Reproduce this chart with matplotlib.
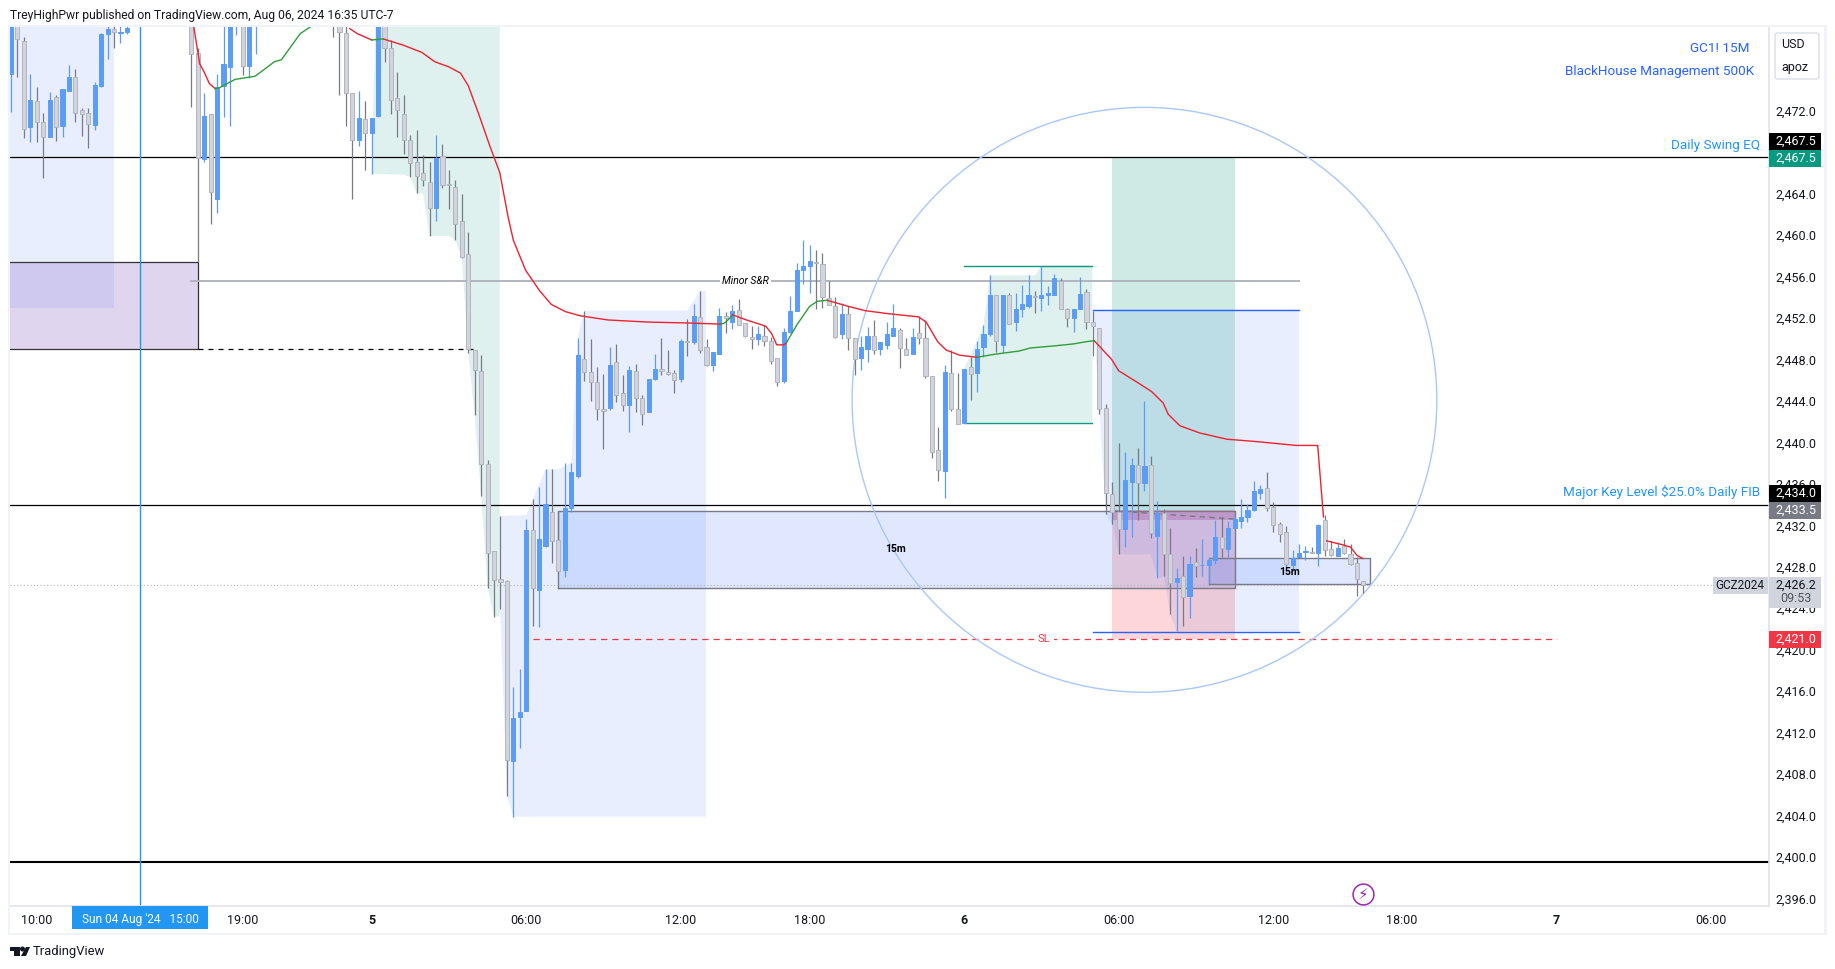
import numpy as np
import matplotlib
matplotlib.use('Agg')
import matplotlib.pyplot as plt
from matplotlib.patches import Ellipse, Rectangle, FancyBboxPatch, Polygon

nan = np.nan
W, H = 1835, 969

# candles, one per 15 min bar, gaps are bars that sit above the visible range
opens = [2475.5,2482,2478.7,2470.4,2472.9,2470.9,2469.4,2473.3,2470.5,2473.9,
    2475.2,2472.0,2471.8,2470.6,2474.4,2479.4,2479.9,2479.5,2479.6] + [nan]*9 + [
    2483,2477.5,2467.3,2471.7,2463.5,2474.4,2476.2,2481,2483,2476.3,2481] + [nan]*11 + [
    2484,2482,2479.5,2473.7,2469.2,2471.2,2469.8,2471.5,2481,2478.0,
    2473.2,2471.7,2469.2,2467.0,2466.0,2465.1,2462.6,2467.6,2464.9,2464.6,
    2461.3,2458.2,2448.9,2446.9,2437.9,2429.5,2426.8,2426.6,2409.3,2413.5,
    2414.1,2431.5,2425.8,2430.0,2433.3,2430.6,2427.7,2433.7,2436.8,2448.0,
    2446.8,2445.8,2443.2,2443.3,2447.7,2444.8,2443.6,2446.9,2444.3,2442.9,
    2446.1,2447.1,2446.8,2446.7,2446.1,2449.8,2449.7,2452.1,2449.2,2447.5,
    2448.5,2452.2,2451.6,2452.8,2451.5,2450.2,2450.0,2450.3,2449.8,2448.1,
    2445.9,2450.6,2452.7,2456.6,2457.0,2457.4,2457.2,2453.9,2453.1,2450.4,
    2452.4,2450.1,2448.1,2449.0,2450.3,2449.0,2449.4,2450.3,2450.8,2449.0,
    2448.5,2450.5,2450.1,2446.4,2439.3,2437.2,2446.7,2443.2,2441.9,2447.3,
    2446.7,2449.2,2450.4,2454.2,2449.4,2454.2,2451.6,2452.9,2453.1,2454.1,
    2453.9,2454.2,2454.2,2455.6,2452.9,2452.0,2452.9,2454.5,2451.6,2451.0,
    2443.3,2435.0,2433.3,2431.6,2436.2,2437.8,2436.1,2437.8,2431.0,2433.2,
    2429.2,2426.5,2427.1,2425.2,2428.5,2428.15,2428.2,2428.7,2430.9,2429.7,
    2431.7,2432.4,2432.8,2433.5,2435.1,2435.6,2433.8,2432.1,2431.4,2428.2,
    2428.9,2429.4,2429.4,2429.3,2432.5,2429.7,2429.0,2430.0,2429.2,2428.4,
    2426.6]
closes = [2482,2478.9,2470.2,2473.0,2470.9,2469.4,2473.0,2470.4,2474.1,2475.2,
    2471.8,2471.7,2470.7,2474.5,2479.4,2479.9,2479.6,2479.6,2480.0] + [nan]*9 + [
    2477.4,2467.4,2471.5,2464.1,2474.3,2476.5,2481.5,2483,2476.3,2483,2483] + [nan]*11 + [
    2482,2479.6,2473.7,2469.2,2471.3,2469.8,2471.3,2481,2478.0,2473.0,
    2472.0,2469.2,2466.9,2465.7,2465.3,2462.6,2467.4,2464.8,2464.8,2461.1,
    2457.9,2449.0,2447.0,2437.9,2429.3,2426.7,2426.5,2409.4,2413.4,2414.0,
    2431.5,2426.0,2430.7,2434.1,2430.5,2427.6,2433.7,2437.1,2448.4,2446.8,
    2445.8,2443.2,2443.0,2447.5,2444.6,2443.6,2447.0,2444.3,2442.7,2446.1,
    2447.1,2446.9,2446.6,2446.0,2449.8,2449.7,2452.2,2448.9,2447.5,2448.7,
    2452.2,2452.0,2452.7,2451.3,2450.3,2449.95,2450.4,2449.8,2447.8,2445.8,
    2450.6,2452.7,2456.6,2457.0,2457.5,2457.25,2454.0,2453.2,2450.2,2452.4,
    2450.1,2448.0,2449.2,2450.3,2448.9,2449.7,2450.4,2451.0,2449.1,2448.4,
    2450.2,2450.1,2446.4,2439.1,2437.3,2446.8,2443.2,2441.8,2447.1,2446.6,
    2449.0,2450.4,2454.2,2449.8,2454.2,2451.4,2452.9,2453.3,2454.2,2454.0,
    2454.2,2454.4,2455.8,2452.9,2452.0,2452.9,2454.3,2451.6,2451.2,2443.2,
    2435.1,2433.3,2431.6,2436.4,2437.8,2436.1,2437.7,2431.3,2433.2,2429.2,
    2426.4,2426.9,2425.1,2428.3,2428.1,2428.2,2428.7,2430.9,2429.8,2431.7,
    2432.6,2432.8,2433.5,2435.3,2435.5,2433.7,2432.0,2431.2,2428.3,2428.8,
    2429.3,2429.5,2429.3,2432.0,2429.6,2429.15,2429.8,2429.3,2428.3,2426.8,
    2426.2]
highs = [2483,2483,2479.1,2475.5,2474.3,2471.8,2473.8,2473.5,2474.1,2476.4,
    2476.0,2472.2,2472.2,2474.7,2479.5,2480.3,2480.3,2480.3,2480.5] + [nan]*9 + [
    2484,2478.0,2473.7,2471.7,2475.5,2481,2482,2483.5,2484,2484,2484] + [nan]*11 + [
    2485,2483,2481,2473.7,2473.9,2472.9,2471.3,2482,2482,2478.8,
    2475.7,2473.5,2469.6,2470.1,2467.7,2467.0,2469.6,2468.8,2466.3,2465.3,
    2463.9,2460.3,2448.9,2448.4,2438.3,2429.5,2432.9,2426.7,2416.4,2418.1,
    2432.6,2434.5,2435.7,2437.4,2437.4,2433.4,2438.0,2438.0,2450.1,2452.7,
    2450.0,2447.3,2446.6,2449.2,2449.5,2446.5,2447.4,2447.6,2444.6,2446.1,
    2448.5,2450.1,2448.9,2447.0,2450.0,2451.9,2453.3,2454.6,2450.0,2448.7,
    2453.0,2452.6,2453.2,2453.8,2451.5,2451.2,2451.2,2451.3,2450.2,2448.1,
    2451.0,2454.1,2457.3,2459.5,2459.0,2458.5,2458.3,2455.6,2454.0,2453.4,
    2453.1,2450.1,2450.3,2451.1,2451.8,2449.7,2451.6,2453.3,2451.0,2450.1,
    2451.0,2452.2,2451.8,2446.4,2441.5,2447.5,2448.9,2446.7,2447.1,2448.2,
    2449.8,2451.3,2456.1,2454.2,2454.2,2454.4,2454.4,2455.2,2456.1,2454.6,
    2457.0,2455.1,2456.2,2455.8,2453.0,2452.9,2455.9,2454.8,2452.7,2451.0,
    2443.7,2436.2,2439.9,2439.1,2438.5,2439.5,2444.0,2438.7,2434.3,2433.6,
    2431.7,2427.9,2429.0,2429.0,2429.8,2430.7,2428.9,2432.5,2432.8,2432.4,
    2432.9,2434.5,2434.1,2436.3,2435.9,2437.1,2434.2,2432.3,2431.9,2429.6,
    2430.2,2430.0,2429.9,2432.1,2433.0,2430.5,2430.4,2430.7,2430.2,2428.9,
    2426.6]
lows = [2471.9,2475.2,2469.3,2469.0,2469.0,2465.5,2469.4,2469.1,2469.4,2473.9,
    2470.9,2469.5,2468.4,2470.1,2474.3,2477.0,2478.0,2478.5,2479.4] + [nan]*9 + [
    2472.3,2457.4,2467.0,2461.1,2462.1,2471.4,2470.5,2479.3,2475.4,2475.1,2477.4] + [nan]*11 + [
    2479.1,2473.5,2470.5,2463.5,2468.6,2466.3,2465.9,2471.4,2476.7,2471.7,
    2469.4,2467.8,2465.6,2464.0,2464.7,2459.9,2461.3,2464.5,2462.5,2459.5,
    2457.8,2448.6,2442.6,2434.8,2426.0,2423.2,2423.9,2405.9,2403.9,2410.5,
    2414.1,2422.3,2422.2,2429.9,2428.4,2427.6,2427.0,2433.3,2436.6,2445.9,
    2444.0,2442.2,2439.4,2443.1,2443.9,2443.0,2441.0,2442.9,2441.7,2442.9,
    2446.0,2446.5,2446.5,2444.8,2445.8,2448.3,2449.5,2448.6,2447.4,2446.9,
    2448.5,2450.5,2450.9,2451.3,2450.2,2449.0,2449.4,2449.3,2447.6,2445.4,
    2445.7,2450.5,2452.7,2455.3,2454.4,2452.9,2453.0,2453.2,2450.1,2450.0,
    2448.9,2446.5,2447.0,2447.7,2448.5,2448.4,2449.0,2450.3,2447.2,2448.4,
    2448.5,2449.5,2446.2,2438.5,2436.3,2434.6,2443.0,2441.8,2441.9,2444.1,
    2444.9,2448.2,2450.3,2448.7,2448.6,2451.4,2450.7,2452.1,2453.0,2452.5,
    2452.7,2453.2,2454.2,2452.9,2451.1,2450.6,2452.9,2450.9,2448.3,2442.7,
    2433.1,2432.1,2429.2,2429.9,2430.9,2432.5,2435.3,2430.8,2426.9,2427.1,
    2423.4,2421.8,2422.3,2423.1,2427.0,2427.1,2426.4,2428.3,2428.9,2428.9,
    2431.7,2431.7,2432.3,2433.4,2434.5,2433.4,2431.4,2430.4,2427.8,2427.6,
    2428.9,2428.7,2429.3,2428.1,2429.0,2429.0,2429.0,2429.2,2428.2,2425.2,
    2425.5]

# moving average pieces (bar number, price), red below / green above
ma_red_1_x = [28.4,29.3,30,30.8,31.7]
ma_red_1_y = [2480.0,2476.5,2475.7,2474.6,2474.1]
ma_green_1_x = [31.7,32.4,34.8,37.9,40.9,42,44.9,46.8]
ma_green_1_y = [2474.1,2474.2,2475.0,2475.3,2476.7,2476.9,2479.4,2480.2]
ma_red_2_x = [52.6,53.8,56]
ma_red_2_y = [2479.9,2479.4,2478.8]
ma_green_2_x = [56,57.8]
ma_green_2_y = [2478.8,2478.9]
ma_red_3_x = [57.8,60.9,63.8,65.8,68,69.8,71,72.6,74.4,75.9,77.2,78,79.9,82.1,83.9,86.1,88.4,92.7,98.8,105.6,110.2]
ma_red_3_y = [2478.9,2478.3,2477.6,2476.7,2476.2,2475.6,2474.4,2471.7,2468.5,2466.0,2461.7,2459.5,2456.6,2454.6,2453.3,2452.6,2452.2,2451.8,2451.6,2451.5,2451.4]
ma_green_3_x = [110.2,110.8,112]
ma_green_3_y = [2451.4,2451.5,2452.2]
ma_red_4_x = [112,114.2,117.2,118.1,118.9,120,120.4]
ma_red_4_y = [2452.3,2451.8,2451.2,2450.5,2449.4,2449.4,2449.6]
ma_green_4_x = [120.4,122.1,124,125.2,126.7]
ma_green_4_y = [2449.6,2451.4,2453.1,2453.6,2453.7]
ma_red_5_x = [126.7,130.1,132.6,136.3,140.9,142.1,143.9,145.2,147.3,150]
ma_red_5_y = [2453.7,2453.1,2452.7,2452.4,2452.1,2451.6,2449.7,2448.9,2448.4,2448.2]
ma_green_5_x = [150,152.8,156.5,158.3,162,165.1,166.9,168.2]
ma_green_5_y = [2448.2,2448.5,2448.8,2449.1,2449.3,2449.5,2449.7,2449.8]
ma_red_6_x = [168.2,169.4,170.9,172,174.6,177.1,178.9,179.7,181.5,184.6,188.8,192.9,199.6,202.9,203.8]
ma_red_6_y = [2449.8,2449.0,2448.0,2446.9,2445.9,2444.9,2443.8,2442.7,2441.6,2440.9,2440.3,2440.1,2439.7,2439.7,2432.8]
ma_red_7_x = [204.3,206.9,208,209,209.9]
ma_red_7_y = [2430.5,2430.1,2429.9,2429.1,2428.8]

# shaded ranges
blue_left_x = [-1,16,16,-1]
blue_left_y = [2481,2481,2453.0,2453.0]
blue_mid_x = [78,107.9,107.9,107,105,89,88,87,85,83,81,80,76,76,77]
blue_mid_y = [2403.9,2403.9,2454.6,2454.6,2452.7,2452.7,2450.1,2438.0,2437.4,2437.4,2434.5,2433.0,2432.9,2423.0,2405.9]
blue_right_x = [168,170,171,172,177,178,179,180,181,200,200]
blue_right_y = [2452.8,2433.1,2432.1,2429.2,2429.2,2426.9,2427.1,2423.4,2421.75,2421.75,2452.8]
teal_left_x = [56.6,56,61,62,63,64,65,68,69,70,71,72,73,74,75,75.9,75.9]
teal_left_y = [2481,2465.9,2465.8,2465.6,2464,2464,2459.9,2459.9,2459.5,2457.8,2448.6,2442.6,2434.8,2426,2423.2,2423.2,2481]
teal_mid_x = [148,148,150,151,152,159,160,167.9,167.9]
teal_mid_y = [2441.9,2447.1,2449.8,2451.3,2456.1,2456.1,2457.05,2457.05,2441.9]

price_ticks = [2396,2400,2404,2408,2412,2416,2420,2424,2428,2432,2436,2440,2444,2448,2452,2456,2460,2464,2472]
price_labels = ['{:,.1f}'.format(p) for p in price_ticks]
time_ticks = [4,36,56,80,104,124,148,172,196,216,240,264]
time_labels = ['10:00','19:00','5','06:00','12:00','18:00','6','06:00','12:00','18:00','7','06:00']

plt.rcParams['font.family'] = ['Roboto', 'DejaVu Sans']
txt = '#131722'
blue = '#5b9cf6'
grey_body = '#d1d4dc'
grey_edge = '#b2b5be'
grey_wick = '#787b86'

fig = plt.figure(figsize=(W/100, H/100), dpi=100)
ax = fig.add_axes([10/W, 1-906/H, 1759/W, 879/H])
ax.set_xlim(-0.155, 272.98)
ax.set_ylim(2395.29, 2480.05)

# zones under the candles
ax.fill(blue_left_x, blue_left_y, color='#2962ff', alpha=0.1, lw=0, zorder=1)
ax.fill(blue_mid_x, blue_mid_y, color='#2962ff', alpha=0.1, lw=0, zorder=1)
ax.fill(blue_right_x, blue_right_y, color='#2962ff', alpha=0.1, lw=0, zorder=1)
ax.fill(teal_left_x, teal_left_y, color='#089981', alpha=0.13, lw=0, zorder=1)
ax.fill(teal_mid_x, teal_mid_y, color='#089981', alpha=0.13, lw=0, zorder=1)
ax.add_patch(Rectangle((-1, 2449.0), 30, 8.4, fc='#9575cd', alpha=0.3, lw=0, zorder=1))
ax.plot([-1, 29, 29, -1], [2457.4, 2457.4, 2449.0, 2449.0], color='#333333', lw=0.9, zorder=2)
ax.plot([29, 72], [2449.0, 2449.0], color='black', lw=0.9, ls=(0, (4, 4)), zorder=2)

# long/short trade box
ax.add_patch(Rectangle((171, 2433.5), 19, 34.0, fc='#089981', alpha=0.2, lw=0, zorder=1))
ax.add_patch(Rectangle((171, 2421.0), 19, 12.5, fc='#f23645', alpha=0.2, lw=0, zorder=1))
ax.add_patch(Rectangle((171, 2432.55), 19, 0.9, fc='#a03080', alpha=0.25, lw=0, zorder=1))
ax.plot([171, 190], [2433.4, 2432.6], color=grey_wick, lw=1, ls=(0, (4, 3)), zorder=2)

# 15m boxes
ax.add_patch(Rectangle((85, 2426.0), 105, 7.4, fc='#2962ff', alpha=0.14, lw=0, zorder=1))
ax.plot([85, 85, 190, 190, 85], [2426.0, 2433.4, 2433.4, 2426.0, 2426.0], color=grey_wick, lw=1, zorder=2)
ax.add_patch(Rectangle((186, 2426.35), 25, 2.5, fc='#2962ff', alpha=0.14, lw=0, zorder=1))
ax.plot([186, 186, 211, 211, 186], [2426.35, 2428.85, 2428.85, 2426.35, 2426.35], color=grey_wick, lw=1, zorder=2)
ax.text(137.4, 2429.7, '15m', fontsize=7.5, weight='bold', color='black', ha='center', va='center', zorder=6)
ax.text(198.5, 2427.5, '15m', fontsize=7.5, weight='bold', color='black', ha='center', va='center', zorder=6)

# levels
ax.axhline(2467.5, color='black', lw=0.9, zorder=2)
ax.axhline(2434.0, color='black', lw=0.9, zorder=2)
ax.axhline(2399.5, color='black', lw=1.5, zorder=2)
ax.axhline(2426.2, color='#b2b5be', lw=0.8, ls=(0, (1, 2)), zorder=2)
ax.axvline(20, color='#2196f3', lw=1, zorder=2)
ax.plot([27.9, 200], [2455.6, 2455.6], color=grey_edge, lw=1.4, zorder=2)
ax.text(114, 2455.6, 'Minor S&R', fontsize=7.5, style='italic', color='black', ha='center', va='center', zorder=6,
        bbox=dict(fc='white', ec='none', pad=1.5))
ax.plot([168, 200], [2452.8, 2452.8], color='#2962ff', lw=1, zorder=2)
ax.plot([168, 200], [2421.75, 2421.75], color='#2962ff', lw=1, zorder=2)
ax.plot([148, 167.9], [2457.05, 2457.05], color='#089981', lw=1, zorder=2)
ax.plot([148, 167.9], [2441.9, 2441.9], color='#089981', lw=1, zorder=2)
ax.plot([81, 240], [2421.0, 2421.0], color='#f23645', lw=0.9, ls=(0, (5, 4)), zorder=2)
ax.text(160.4, 2421.0, 'SL', fontsize=8, color='#f23645', ha='center', va='center', zorder=6,
        bbox=dict(fc='white', ec='none', pad=2.5))
ax.add_patch(Ellipse((176.0, 2444.1), 90.8, 56.4, fc='none', ec='#a8c8fa', lw=1, zorder=2))

# candles
x = np.arange(len(opens))
o, h, l, c = [np.array(a) for a in (opens, highs, lows, closes)]
ok = ~np.isnan(o)
up = ok & (c >= o)
dn = ok & (c < o)
ax.vlines(x[up], l[up], h[up], color=blue, lw=0.9, zorder=3)
ax.vlines(x[dn], l[dn], h[dn], color=grey_wick, lw=0.9, zorder=3)
ax.bar(x[up], (c-o)[up], bottom=o[up], width=0.64, color=blue, edgecolor=blue, lw=0.7, zorder=4)
ax.bar(x[dn], (c-o)[dn], bottom=o[dn], width=0.64, color=grey_body, edgecolor=grey_edge, lw=0.7, zorder=4)

# moving average
for mx, my in [(ma_red_1_x, ma_red_1_y), (ma_red_2_x, ma_red_2_y), (ma_red_3_x, ma_red_3_y), (ma_red_4_x, ma_red_4_y),
               (ma_red_5_x, ma_red_5_y), (ma_red_6_x, ma_red_6_y), (ma_red_7_x, ma_red_7_y)]:
    ax.plot(mx, my, color='#f0212f', lw=1, zorder=5)
for mx, my in [(ma_green_1_x, ma_green_1_y), (ma_green_2_x, ma_green_2_y), (ma_green_3_x, ma_green_3_y),
               (ma_green_4_x, ma_green_4_y), (ma_green_5_x, ma_green_5_y)]:
    ax.plot(mx, my, color='#2e9e3a', lw=1, zorder=5)

# flash icon
ax.plot([210], [2396.4], marker='o', ms=15, mfc='white', mec='#9c27b0', mew=1.1, zorder=6)
ax.text(210, 2396.4, '\u26a1', fontsize=11, color='#9c27b0', ha='center', va='center', zorder=7, family='DejaVu Sans')

# axes
for s in ('top', 'left'):
    ax.spines[s].set_visible(False)
ax.spines['right'].set_color('#e0e3eb')
ax.spines['bottom'].set_color('#e0e3eb')
ax.spines['right'].set_linewidth(1.2)
ax.spines['bottom'].set_linewidth(1.2)
ax.yaxis.tick_right()
ax.set_yticks(price_ticks, labels=price_labels)
ax.set_xticks(time_ticks, labels=time_labels)
ax.tick_params(axis='y', length=0, pad=19.5, labelsize=9, labelcolor=txt)
ax.tick_params(axis='x', length=0, pad=6, labelsize=9, labelcolor=txt)
for lab in ax.get_yticklabels():
    lab.set_ha('center')
for lab in ax.get_xticklabels():
    if lab.get_text() in ('5', '6', '7'):
        lab.set_fontweight('bold')


def box(x0, y0, x1, y1, color, z=5):
    fig.add_artist(Rectangle((x0/W, 1-y1/H), (x1-x0)/W, (y1-y0)/H, transform=fig.transFigure, fc=color, ec='none', zorder=z))


def label(px, py, s, color=txt, size=9, ha='center', **kw):
    fig.text(px/W, 1-py/H, s, color=color, fontsize=size, ha=ha, va='center', zorder=8, **kw)


# frame
box(8, 25, 1827, 27, '#f0f3fa')
box(8, 25, 10, 935, '#f0f3fa')
box(1824, 25, 1827, 935, '#f0f3fa')
box(8, 933, 1827, 935, '#f0f3fa')

# price tags
tags = [(133, 150, '#000000', '2,467.5'), (150, 167, '#089981', '2,467.5'), (485, 502, '#000000', '2,434.0'),
        (502, 519, '#787b86', '2,433.5'), (631, 648, '#f23645', '2,421.0')]
for y0, y1, col, s in tags:
    box(1769, y0, 1821, y1, col)
    label(1796, (y0+y1)/2, s, color='white')
box(1769, 577, 1821, 608, '#d1d4dc')
label(1796, 585, '2,426.2')
label(1796, 599, '09:53', color='#50535e')
box(1713, 577, 1768, 594, '#d1d4dc')
label(1740, 585.5, 'GCZ2024', size=8.5)

# currency button
fig.add_artist(FancyBboxPatch((1775/W, 1-79/H), 44/W, 46/H, boxstyle='round,pad=0,rounding_size=0.002', transform=fig.transFigure,
                              fc='white', ec='#e0e3eb', lw=1.2, zorder=6))
label(1793, 44, 'USD')
label(1795, 67, 'apoz')

# notes
label(1749, 48, 'GC1! 15M', color='#2962ff', size=9.7, ha='right')
label(1754, 72, 'BlackHouse Management 500K', color='#2962ff', size=9.7, ha='right')
label(1760, 145, 'Daily Swing EQ', color='#2196f3', size=9.7, ha='right')
label(1760, 492, 'Major Key Level $25.0% Daily FIB', color='#2196f3', size=9.7, ha='right', parse_math=False)

# crosshair time
box(72, 906, 208, 929, '#2196f3')
label(140, 920, "Sun 04 Aug '24   15:00", color='white', size=8.6)

# header and logo
label(10, 15, 'TreyHighPwr published on TradingView.com, Aug 06, 2024 16:35 UTC-7', ha='left', size=8.7)
label(33, 952, 'TradingView', ha='left', size=9.4)
box(10, 947, 20, 951, txt, 8)
box(14, 947, 20, 956, txt, 8)
fig.add_artist(Ellipse((22.5/W, 1-949/H), 5/W, 5/H, transform=fig.transFigure, fc=txt, ec='none', zorder=8))
fig.add_artist(Polygon([(26/W, 1-947/H), (30/W, 1-947/H), (26/W, 1-956/H), (21/W, 1-956/H)], closed=True,
                       transform=fig.transFigure, fc=txt, ec='none', zorder=8))

fig.savefig('out.png', dpi=100)
